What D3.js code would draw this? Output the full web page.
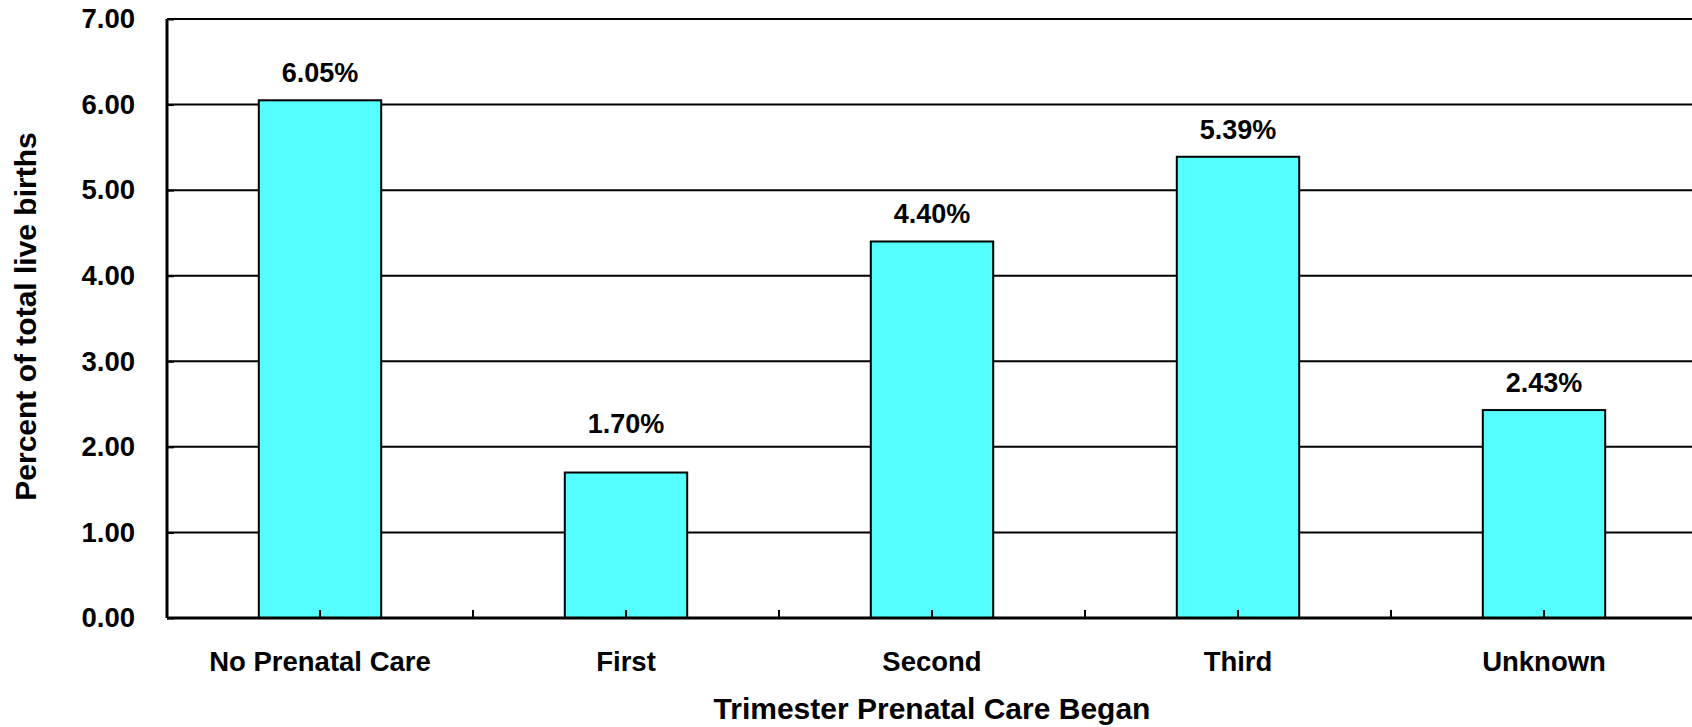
<!DOCTYPE html>
<html>
<head>
<meta charset="utf-8">
<script src="https://cdn.jsdelivr.net/npm/d3@7"></script>
<style>
    body { margin: 0; background: #fff; }
    svg { display: block; }
    text { font-family: Arial, "Liberation Sans", sans-serif; font-weight: bold; fill: #000; }
</style>
</head>
<body>
<div id="chart"></div>
<script>
// values
const categories = ['No Prenatal Care', 'First', 'Second', 'Third', 'Unknown'];
const percents = [6.05, 1.70, 4.40, 5.39, 2.43];
const yTicks = [0, 1, 2, 3, 4, 5, 6, 7];

const width = 1692, height = 727;
const margin = { top: 19, left: 167 };
const plotW = 1530, plotH = 599;
// the "First" label sits higher above its bar in the original
const labelLift = { 'First': 22 };

const svg = d3.select('#chart').append('svg')
    .attr('width', width)
    .attr('height', height);

const g = svg.append('g')
    .attr('transform', `translate(${margin.left},${margin.top})`);

const x = d3.scaleBand()
    .domain(categories)
    .range([0, plotW])
    .paddingInner(0.6)
    .paddingOuter(0.3);

const y = d3.scaleLinear()
    .domain([0, 7])
    .range([plotH, 0]);

// horizontal gridlines
g.append('g')
    .selectAll('line')
    .data(yTicks)
    .enter().append('line')
    .attr('x1', 0)
    .attr('x2', plotW)
    .attr('y1', d => y(d))
    .attr('y2', d => y(d))
    .attr('stroke', '#000')
    .attr('stroke-width', 2);

// bars
g.append('g')
    .selectAll('rect')
    .data(percents)
    .enter().append('rect')
    .attr('x', (d, i) => x(categories[i]))
    .attr('y', d => y(d))
    .attr('width', x.bandwidth())
    .attr('height', d => plotH - y(d))
    .attr('fill', '#55ffff')
    .attr('stroke', '#000')
    .attr('stroke-width', 2);

// value labels
g.append('g')
    .selectAll('text')
    .data(percents)
    .enter().append('text')
    .attr('x', (d, i) => x(categories[i]) + x.bandwidth() / 2)
    .attr('y', (d, i) => y(d) - 18 - (labelLift[categories[i]] || 0))
    .attr('text-anchor', 'middle')
    .style('font-size', '27px')
    .text(d => d.toFixed(2) + '%');

// y axis: inward ticks and labels
const yAxis = d3.axisLeft(y)
    .tickValues(yTicks)
    .tickSize(-7)
    .tickPadding(32)
    .tickFormat(d3.format('.2f'));

const yg = g.append('g').call(yAxis);
yg.select('.domain').remove();
yg.selectAll('.tick line').attr('stroke', '#000').attr('stroke-width', 2);
yg.selectAll('.tick text')
    .style('font-size', '27.5px')
    .style('font-family', 'Arial, "Liberation Sans", sans-serif');

g.append('line')
    .attr('x1', 0).attr('x2', 0)
    .attr('y1', 0).attr('y2', plotH)
    .attr('stroke', '#000')
    .attr('stroke-width', 3);

// x axis: ticks at every half category, pointing up
const tickPos = d3.range(categories.length * 2 + 1).map(i => i * x.step() / 2);
g.append('g')
    .selectAll('line')
    .data(tickPos)
    .enter().append('line')
    .attr('x1', d => d).attr('x2', d => d)
    .attr('y1', plotH).attr('y2', plotH - 8)
    .attr('stroke', '#000')
    .attr('stroke-width', 2);

g.append('line')
    .attr('x1', 0).attr('x2', plotW)
    .attr('y1', plotH).attr('y2', plotH)
    .attr('stroke', '#000')
    .attr('stroke-width', 3);

// category labels
g.append('g')
    .selectAll('text')
    .data(categories)
    .enter().append('text')
    .attr('x', d => x(d) + x.bandwidth() / 2)
    .attr('y', plotH + 53)
    .attr('text-anchor', 'middle')
    .style('font-size', '27.5px')
    .text(d => d);

// axis titles
g.append('text')
    .attr('x', plotW / 2)
    .attr('y', plotH + 101)
    .attr('text-anchor', 'middle')
    .style('font-size', '30px')
    .text('Trimester Prenatal Care Began');

g.append('text')
    .attr('transform', `translate(${36 - margin.left},${plotH / 2 - 2}) rotate(-90)`)
    .attr('text-anchor', 'middle')
    .style('font-size', '30px')
    .text('Percent of total live births');
</script>
</body>
</html>
